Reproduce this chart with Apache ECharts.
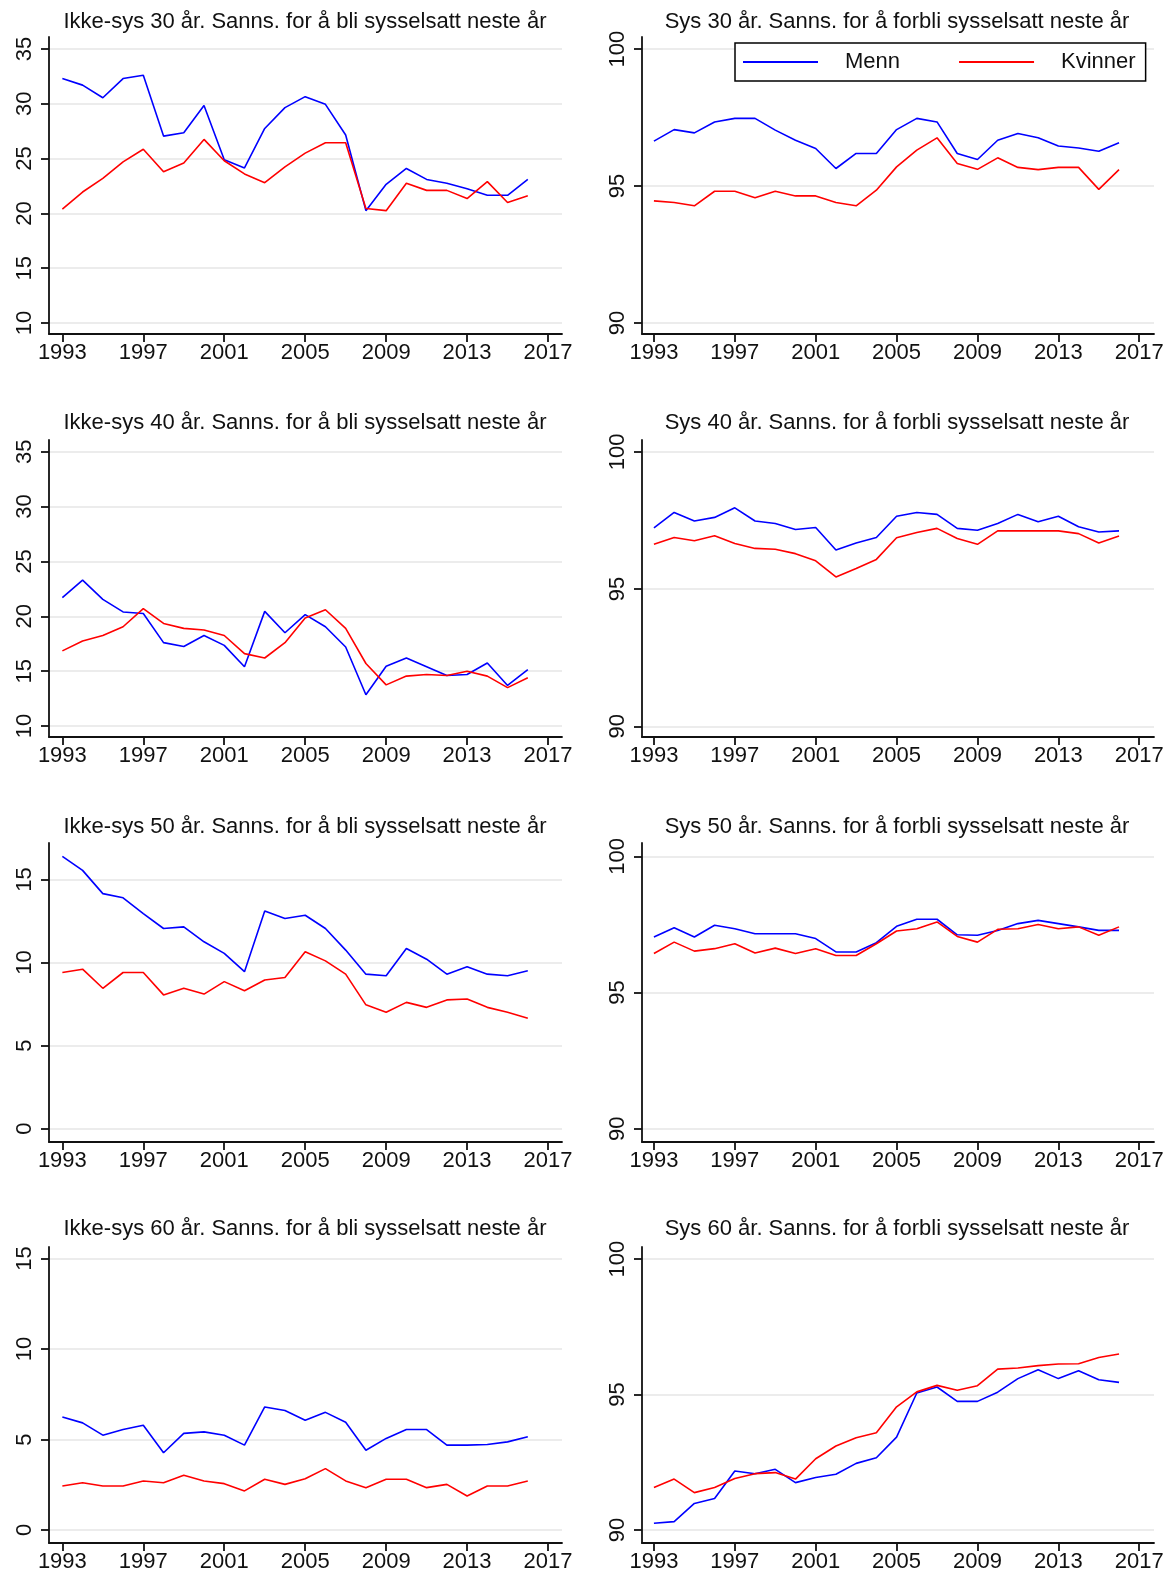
<!DOCTYPE html>
<html>
<head>
<meta charset="utf-8">
<script src="https://cdn.jsdelivr.net/npm/echarts@6/dist/echarts.min.js"></script>
<style>
  html, body { margin: 0; padding: 0; background: #fff; }
  #chart { width: 1175px; height: 1573px; }
</style>
</head>
<body>
<div id="chart"></div>
<script>
// år
const years = [1993, 1994, 1995, 1996, 1997, 1998, 1999, 2000, 2001, 2002, 2003, 2004,
  2005, 2006, 2007, 2008, 2009, 2010, 2011, 2012, 2013, 2014, 2015, 2016];
const xTicks = [1993, 1997, 2001, 2005, 2009, 2013, 2017];

// tick-verdier paa y-aksen
const yTicksIkkeUng = [10, 15, 20, 25, 30, 35];
const yTicksIkkeEldre = [0, 5, 10, 15];
const yTicksSys = [90, 95, 100];

// Ikke-sys 30
const ikke30Menn = [32.3, 31.7, 30.55, 32.3, 32.6, 27.05, 27.35, 29.85, 24.9, 24.15, 27.75, 29.65,
  30.65, 29.95, 27.15, 20.25, 22.65, 24.1, 23.1, 22.75, 22.25, 21.65, 21.65, 23.1];
const ikke30Kvinner = [20.4, 21.95, 23.2, 24.7, 25.85, 23.8, 24.6, 26.75, 24.8, 23.6, 22.8, 24.25,
  25.5, 26.45, 26.45, 20.45, 20.25, 22.75, 22.1, 22.1, 21.35, 22.9, 21.0, 21.6];
// Sys 30
const sys30Menn = [96.64, 97.06, 96.94, 97.34, 97.47, 97.47, 97.04, 96.67, 96.37, 95.64, 96.19, 96.19,
  97.06, 97.47, 97.34, 96.19, 95.97, 96.67, 96.92, 96.76, 96.46, 96.39, 96.27, 96.58];
const sys30Kvinner = [94.46, 94.4, 94.28, 94.81, 94.81, 94.57, 94.81, 94.64, 94.64, 94.4, 94.28, 94.85,
  95.7, 96.31, 96.76, 95.82, 95.61, 96.03, 95.68, 95.6, 95.68, 95.68, 94.88, 95.6];

// Ikke-sys 40
const ikke40Menn = [21.7, 23.3, 21.55, 20.4, 20.25, 17.6, 17.25, 18.25, 17.35, 15.4, 20.45, 18.5,
  20.15, 19.05, 17.2, 12.85, 15.45, 16.2, 15.4, 14.6, 14.7, 15.75, 13.7, 15.15];
const ikke40Kvinner = [16.85, 17.75, 18.25, 19.05, 20.7, 19.35, 18.9, 18.75, 18.25, 16.6, 16.2, 17.6,
  19.85, 20.6, 18.9, 15.7, 13.75, 14.55, 14.7, 14.6, 15.0, 14.55, 13.5, 14.4];
// Sys 40
const sys40Menn = [97.23, 97.79, 97.48, 97.61, 97.96, 97.48, 97.39, 97.17, 97.24, 96.42, 96.68, 96.88,
  97.65, 97.79, 97.72, 97.21, 97.14, 97.39, 97.72, 97.45, 97.65, 97.27, 97.08, 97.12];
const sys40Kvinner = [96.63, 96.88, 96.76, 96.94, 96.66, 96.48, 96.45, 96.29, 96.03, 95.44, 95.75, 96.08,
  96.87, 97.06, 97.21, 96.84, 96.63, 97.12, 97.12, 97.12, 97.12, 97.02, 96.68, 96.93];

// Ikke-sys 50
const ikke50Menn = [16.4, 15.55, 14.15, 13.9, 12.95, 12.05, 12.15, 11.25, 10.55, 9.45, 13.1, 12.65,
  12.85, 12.05, 10.75, 9.3, 9.2, 10.85, 10.2, 9.3, 9.75, 9.3, 9.2, 9.5];
const ikke50Kvinner = [9.4, 9.6, 8.45, 9.4, 9.4, 8.05, 8.45, 8.1, 8.85, 8.3, 8.95, 9.1,
  10.65, 10.1, 9.3, 7.45, 7.0, 7.6, 7.3, 7.75, 7.8, 7.3, 7.0, 6.65];
// Sys 50
const sys50Menn = [97.04, 97.38, 97.04, 97.47, 97.34, 97.16, 97.16, 97.16, 96.98, 96.49, 96.49, 96.83,
  97.43, 97.69, 97.69, 97.12, 97.1, 97.28, 97.53, 97.65, 97.53, 97.41, 97.28, 97.28];
const sys50Kvinner = [96.43, 96.85, 96.52, 96.61, 96.79, 96.45, 96.63, 96.43, 96.61, 96.36, 96.36, 96.79,
  97.26, 97.34, 97.59, 97.06, 96.85, 97.32, 97.34, 97.5, 97.34, 97.41, 97.1, 97.41];

// Ikke-sys 60
const ikke60Menn = [6.25, 5.92, 5.24, 5.55, 5.79, 4.27, 5.34, 5.42, 5.24, 4.69, 6.8, 6.6,
  6.06, 6.5, 5.95, 4.41, 5.06, 5.55, 5.55, 4.69, 4.69, 4.72, 4.87, 5.15];
const ikke60Kvinner = [2.43, 2.61, 2.43, 2.43, 2.71, 2.61, 3.02, 2.71, 2.56, 2.16, 2.8, 2.52,
  2.83, 3.39, 2.71, 2.34, 2.8, 2.8, 2.34, 2.52, 1.88, 2.43, 2.43, 2.71];
// Sys 60
const sys60Menn = [90.25, 90.31, 90.98, 91.16, 92.18, 92.08, 92.24, 91.75, 91.94, 92.06, 92.46, 92.67,
  93.43, 95.06, 95.28, 94.75, 94.75, 95.09, 95.59, 95.92, 95.59, 95.88, 95.55, 95.45];
const sys60Kvinner = [91.57, 91.88, 91.38, 91.57, 91.9, 92.08, 92.12, 91.88, 92.63, 93.1, 93.41, 93.59,
  94.55, 95.1, 95.34, 95.16, 95.33, 95.94, 95.98, 96.07, 96.13, 96.14, 96.37, 96.5];

const titles = [
  "Ikke-sys 30 år. Sanns. for å bli sysselsatt neste år",
  "Sys 30 år. Sanns. for å forbli sysselsatt neste år",
  "Ikke-sys 40 år. Sanns. for å bli sysselsatt neste år",
  "Sys 40 år. Sanns. for å forbli sysselsatt neste år",
  "Ikke-sys 50 år. Sanns. for å bli sysselsatt neste år",
  "Sys 50 år. Sanns. for å forbli sysselsatt neste år",
  "Ikke-sys 60 år. Sanns. for å bli sysselsatt neste år",
  "Sys 60 år. Sanns. for å forbli sysselsatt neste år",
];
const mennSeries = [ikke30Menn, sys30Menn, ikke40Menn, sys40Menn, ikke50Menn, sys50Menn, ikke60Menn, sys60Menn];
const kvinnerSeries = [ikke30Kvinner, sys30Kvinner, ikke40Kvinner, sys40Kvinner, ikke50Kvinner, sys50Kvinner, ikke60Kvinner, sys60Kvinner];
const yTickSets = [yTicksIkkeUng, yTicksSys, yTicksIkkeUng, yTicksSys, yTicksIkkeEldre, yTicksSys, yTicksIkkeEldre, yTicksSys];

// layout (px)
const fontFamily = '"Liberation Sans", Arial, sans-serif';
const colLeft = [49, 642];
const colWidth = [513, 512];
const rowTop = [37, 440, 843, 1247];
const rowHeight = [297, 297, 299, 297];
const titleTop = [11, 412, 816, 1218];
const titleCenter = [305, 897];
const xRange = [[1992.34, 2017.69], [1992.41, 2017.73]];
const yRange = [
  [9.0, 36.09], [89.6, 100.44],
  [9.0, 36.07], [89.61, 100.43],
  [-0.81, 17.2], [89.51, 100.49],
  [-0.72, 15.64], [89.52, 100.45],
];

const axisColor = "#111";
const textColor = "#111";

let option = {
  backgroundColor: "#fff",
  animation: false,
  title: [],
  grid: [],
  xAxis: [],
  yAxis: [],
  series: [],
  legend: {
    data: ["Menn", "Kvinner"],
    left: 735,
    top: 43,
    orient: "horizontal",
    icon: "rect",
    itemWidth: 75,
    itemHeight: 2,
    itemGap: 59,
    padding: [8, 10, 8, 8],
    borderColor: "#000",
    borderWidth: 1.5,
    backgroundColor: "#fff",
    textStyle: {
      fontSize: 22,
      color: textColor,
      fontFamily: fontFamily,
      padding: [0, 0, 0, 22],
    },
  },
};

for (let i = 0; i < 8; i++) {
  const row = Math.floor(i / 2);
  const col = i % 2;

  option.title.push({
    text: titles[i],
    left: titleCenter[col],
    top: titleTop[row],
    textAlign: "center",
    padding: 0,
    textStyle: {
      fontSize: 22,
      fontWeight: "normal",
      color: textColor,
      fontFamily: fontFamily,
    },
  });

  option.grid.push({
    left: colLeft[col],
    top: rowTop[row],
    width: colWidth[col],
    height: rowHeight[row],
    containLabel: false,
  });

  option.xAxis.push({
    type: "value",
    gridIndex: i,
    min: xRange[col][0],
    max: xRange[col][1],
    axisLine: { show: true, onZero: false, lineStyle: { color: axisColor, width: 1.8 } },
    axisTick: { show: true, length: 8, customValues: xTicks, lineStyle: { color: axisColor, width: 1.8 } },
    axisLabel: {
      customValues: xTicks,
      formatter: (v) => String(v),
      fontSize: 22,
      margin: 8,
      color: textColor,
      fontFamily: fontFamily,
    },
    splitLine: { show: false },
  });

  option.yAxis.push({
    type: "value",
    gridIndex: i,
    min: yRange[i][0],
    max: yRange[i][1],
    axisLine: { show: true, onZero: false, lineStyle: { color: axisColor, width: 1.8 } },
    axisTick: { show: true, length: 8, customValues: yTickSets[i], lineStyle: { color: axisColor, width: 1.8 } },
    axisLabel: {
      customValues: yTickSets[i],
      formatter: (v) => String(v),
      rotate: 90,
      fontSize: 22,
      margin: 13,
      color: textColor,
      fontFamily: fontFamily,
    },
    splitLine: { show: true, lineStyle: { color: "#e6e6e6", width: 1.5 } },
  });

  option.series.push({
    name: "Menn",
    type: "line",
    xAxisIndex: i,
    yAxisIndex: i,
    data: years.map((y, k) => [y, mennSeries[i][k]]),
    showSymbol: false,
    symbol: "none",
    lineStyle: { color: "#0000ff", width: 1.6 },
    itemStyle: { color: "#0000ff" },
  });
  option.series.push({
    name: "Kvinner",
    type: "line",
    xAxisIndex: i,
    yAxisIndex: i,
    data: years.map((y, k) => [y, kvinnerSeries[i][k]]),
    showSymbol: false,
    symbol: "none",
    lineStyle: { color: "#ff0000", width: 1.6 },
    itemStyle: { color: "#ff0000" },
  });
}

const myChart = echarts.init(document.getElementById("chart"));
myChart.setOption(option);
</script>
</body>
</html>
